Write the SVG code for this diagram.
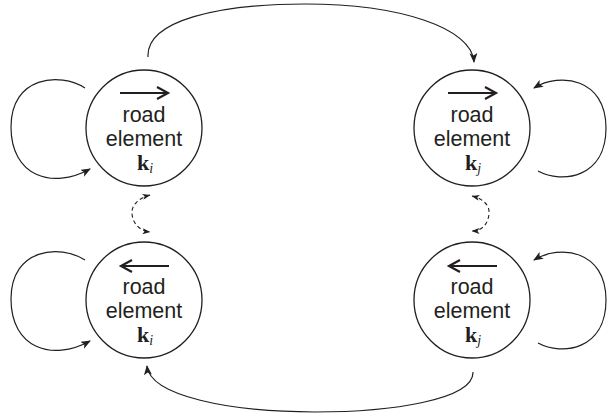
<svg xmlns="http://www.w3.org/2000/svg" width="607" height="417" viewBox="0 0 607 417">
<style>
.node{fill:#fff;stroke:#231f20;stroke-width:1.3}
.lbl{font-family:"Liberation Sans",Arial,sans-serif;font-size:21.5px;fill:#231f20;text-anchor:middle}
.k{font-family:"Liberation Serif","Times New Roman",serif;font-size:22px;font-weight:bold;fill:#231f20;text-anchor:middle}
.sub{font-style:italic;font-weight:normal;font-size:14px}
.dir{fill:none;stroke:#231f20;stroke-width:2.2}
.edge{fill:none;stroke:#231f20;stroke-width:1.2}
.dash{fill:none;stroke:#231f20;stroke-width:1.1;stroke-dasharray:4 3}
</style>
<defs>
<marker id="ah" viewBox="0 0 10 8" refX="9" refY="4" markerWidth="10" markerHeight="8" markerUnits="userSpaceOnUse" orient="auto-start-reverse">
<path d="M0,0 L10,4 L0,8 L2.5,4 Z" fill="#231f20"/>
</marker>
<marker id="ahs" viewBox="0 0 8 6" refX="7.5" refY="3" markerWidth="8" markerHeight="6" markerUnits="userSpaceOnUse" orient="auto-start-reverse">
<path d="M0,0 L8,3 L0,6 L2,3 Z" fill="#231f20"/>
</marker>
</defs>
<g id="connectors">
<path class="edge" d="M148,57 C146,20 220,4 305,4 C400,4 472,28 474,62" marker-end="url(#ah)"/>
<path class="edge" d="M473,372 C474,400 390,412 315,412 C230,412 150,396 147,366" marker-end="url(#ah)"/>
<path class="edge" d="M85,88 C60,72 11,76 11,127 C11,176 52,190 90,169" marker-end="url(#ah)"/>
<path class="edge" d="M85,260 C60,244 11,248 11,299 C11,348 52,362 90,341" marker-end="url(#ah)"/>
<path class="edge" d="M538,171 C562,184 606,178 606,128 C606,78 560,72 534,88" marker-end="url(#ah)"/>
<path class="edge" d="M538,343 C562,356 606,350 606,300 C606,250 560,244 534,260" marker-end="url(#ah)"/>
<path class="dash" d="M150,195 C138,198 131,206 132,214 C133,224 140,231 150,232" marker-start="url(#ahs)" marker-end="url(#ahs)"/>
<path class="dash" d="M472,196 C484,199 490,206 489,214 C488,224 482,231 472,231" marker-start="url(#ahs)" marker-end="url(#ahs)"/>
</g>
<g id="node-ki-forward">
<circle class="node" cx="144" cy="128" r="58"/>
<path class="dir" d="M120,93 H168 M157,87 L168,93 L157,99"/>
<text class="lbl" x="144" y="122">road</text>
<text class="lbl" x="144" y="146">element</text>
<text class="k" x="145" y="170">k<tspan class="sub" dy="3">i</tspan></text>
</g>
<g id="node-kj-forward">
<circle class="node" cx="472" cy="128" r="58"/>
<path class="dir" d="M448,93 H496 M485,87 L496,93 L485,99"/>
<text class="lbl" x="472" y="122">road</text>
<text class="lbl" x="472" y="146">element</text>
<text class="k" x="473" y="170">k<tspan class="sub" dy="3">j</tspan></text>
</g>
<g id="node-ki-backward">
<circle class="node" cx="144" cy="300" r="58"/>
<path class="dir" d="M169,266 H121 M132,260 L121,266 L132,272"/>
<text class="lbl" x="144" y="294">road</text>
<text class="lbl" x="144" y="318">element</text>
<text class="k" x="145" y="342">k<tspan class="sub" dy="3">i</tspan></text>
</g>
<g id="node-kj-backward">
<circle class="node" cx="472" cy="300" r="58"/>
<path class="dir" d="M497,266 H449 M460,260 L449,266 L460,272"/>
<text class="lbl" x="472" y="294">road</text>
<text class="lbl" x="472" y="318">element</text>
<text class="k" x="473" y="342">k<tspan class="sub" dy="3">j</tspan></text>
</g>
</svg>
